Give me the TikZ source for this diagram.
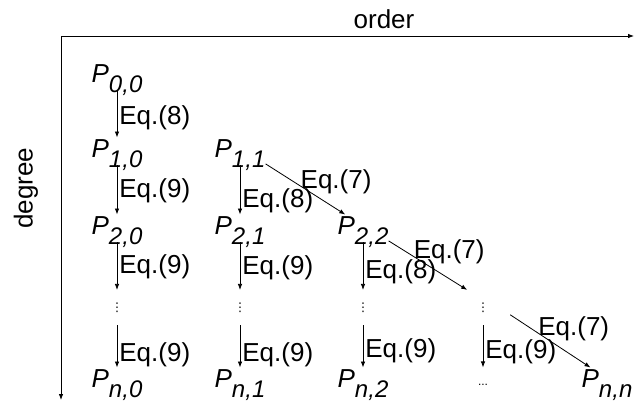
\documentclass[tikz,border=0pt]{standalone}
\usepackage{fontspec}
\setmainfont{Liberation Sans}
\newfontfamily\symfont{DejaVu Sans}
\usepackage{tikz}
\usetikzlibrary{arrows.meta}

\newcommand{\Pidx}[2]{\textit{P}\raisebox{-7.5pt}[0pt][5pt]{\fontsize{18}{18}\selectfont\textit{#1,#2}}}
\newcommand{\vdotsm}{{\symfont ⋮}}

\begin{document}
\begin{tikzpicture}[
    x=0.75pt, y=-0.75pt,
    >={Latex[length=4.5pt, width=3.4pt]},
    pnode/.style={anchor=base, inner xsep=0pt, inner ysep=1pt, font=\fontsize{19.5}{22}\selectfont},
    dotnode/.style={minimum width=40.5pt, minimum height=26pt, inner sep=0pt, font=\fontsize{9}{9}\selectfont},
    arr/.style={->, line width=0.6pt},
    eqlbl/.style={anchor=west, inner xsep=1.5pt, inner ysep=0pt, font=\fontsize{19.5}{22}\selectfont},
    diaglbl/.style={eqlbl, yshift=2.5pt},
    axlbl/.style={font=\fontsize{19.5}{22}\selectfont}
]
\useasboundingbox (0,0) rectangle (635,401);

% axes
\coordinate (orig) at (61,36);
\coordinate (xtip) at (634,36);
\coordinate (ytip) at (61,400);
\draw[arr] (orig) -- (xtip);
\draw[arr] (orig) -- (ytip);
\node[axlbl, anchor=base] (order) at (384,28) {order};
\node[axlbl, rotate=90] (degree) at (26,188) {degree};

% P nodes
\node[pnode] (p00) at (117,82)  {\Pidx{0}{0}};
\node[pnode] (p10) at (117,157) {\Pidx{1}{0}};
\node[pnode] (p20) at (117,234) {\Pidx{2}{0}};
\node[dotnode] (d0) at (117,307.5) {\vdotsm};
\node[pnode] (pn0) at (117,387) {\Pidx{n}{0}};

\node[pnode] (p11) at (240,157) {\Pidx{1}{1}};
\node[pnode] (p21) at (240,234) {\Pidx{2}{1}};
\node[dotnode] (d1) at (240,307.5) {\vdotsm};
\node[pnode] (pn1) at (240,387) {\Pidx{n}{1}};

\node[pnode] (p22) at (363,234) {\Pidx{2}{2}};
\node[dotnode] (d2) at (363,307.5) {\vdotsm};
\node[pnode] (pn2) at (363,387) {\Pidx{n}{2}};

\node[dotnode] (d3) at (483,307.5) {\vdotsm};
\node[dotnode] (pn3) at (483,385) {...};
\node[pnode] (pnn) at (607,387) {\Pidx{n}{n}};

% recursions down the columns
\draw[arr] (p00) -- node[eqlbl, pos=0.58] {Eq.(8)} (p10);
\draw[arr] (p10) -- node[eqlbl, pos=0.51] {Eq.(9)} (p20);
\draw[arr] (p20) -- node[eqlbl, pos=0.52] {Eq.(9)} (d0);
\draw[arr] (d0) -- node[eqlbl, pos=0.71] {Eq.(9)} (pn0);

\draw[arr] (p11) -- node[eqlbl, pos=0.72] {Eq.(8)} (p21);
\draw[arr] (p21) -- node[eqlbl, pos=0.54] {Eq.(9)} (d1);
\draw[arr] (d1) -- node[eqlbl, pos=0.71] {Eq.(9)} (pn1);

\draw[arr] (p22) -- node[eqlbl, pos=0.62] {Eq.(8)} (d2);
\draw[arr] (d2) -- node[eqlbl, pos=0.6] {Eq.(9)} (pn2);

\draw[arr] (d3) -- node[eqlbl, pos=0.64] {Eq.(9)} (pn3);

% diagonal
\draw[arr] (p11.-26) -- node[diaglbl, pos=0.41] {Eq.(7)} (p22.142);
\draw[arr] (p22.-26) -- node[diaglbl, pos=0.29] {Eq.(7)} (d3.132);
\draw[arr] (d3.-15) -- node[diaglbl, pos=0.32] {Eq.(7)} (pnn.140);
\end{tikzpicture}
\end{document}
